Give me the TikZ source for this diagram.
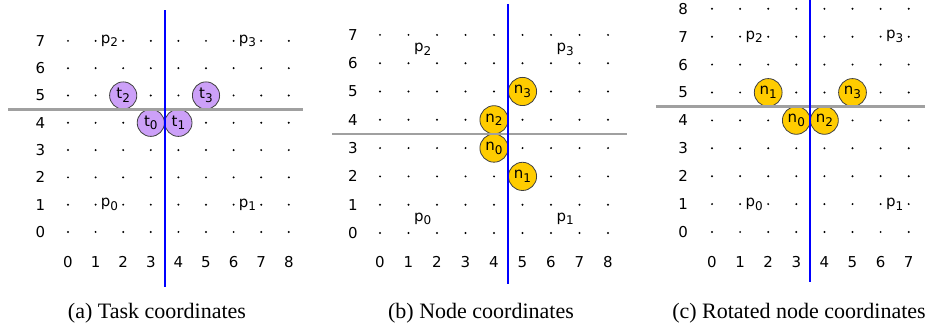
\documentclass[tikz,border=0pt]{standalone}
\usepackage{fontspec}
\setmainfont{Liberation Serif}
\newfontfamily\lblfont{DejaVu Sans}
\newcommand\lowsub[1]{\raisebox{-0.45ex}{\fontsize{6}{6}\selectfont #1}}
\definecolor{taskc}{RGB}{204,160,248}
\definecolor{nodec}{RGB}{255,204,0}
\definecolor{cutgray}{RGB}{160,160,160}
\begin{document}
\begin{tikzpicture}[x=0.5pt,y=-0.5pt,
  gdot/.style={circle,fill=black,inner sep=0pt,minimum size=1.1pt},
  axlbl/.style={font=\lblfont\fontsize{7.5}{8}\selectfont,inner sep=0pt},
  plbl/.style={font=\lblfont\fontsize{7.5}{8}\selectfont,inner sep=0.5pt,fill=white},
  tcirc/.style={circle,draw=black!75,line width=0.4pt,fill=taskc,inner sep=0pt,font=\lblfont\fontsize{7.5}{8}\selectfont},
  ncirc/.style={circle,draw=black!75,line width=0.4pt,fill=nodec,inner sep=0pt,font=\lblfont\fontsize{7.5}{8}\selectfont},
  blueline/.style={draw=blue,line width=1pt},
  grayline/.style={draw=cutgray,line width=1.4pt},
  caption/.style={font=\fontsize{11}{12}\selectfont,inner sep=0pt}
]
\useasboundingbox (0,0) rectangle (925,330);

% ---------- panel (a) ----------
\begin{scope}[shift={(34pt,-116pt)},x=13.8pt,y=13.65pt]
  \foreach \i in {0,...,8} \foreach \j in {0,...,7} \node[gdot] (a-d-\i-\j) at (\i,\j) {};
  \foreach \j in {0,...,7} \node[axlbl] (a-y-\j) at (-1,\j) {\j};
  \foreach \i in {0,...,8} \node[axlbl] (a-x-\i) at (\i,-1.1) {\i};
  \node[plbl] (a-p2) at (1.5,7) {p\lowsub{2}};
  \node[plbl] (a-p3) at (6.5,7) {p\lowsub{3}};
  \node[plbl] (a-p0) at (1.5,1) {p\lowsub{0}};
  \node[plbl] (a-p1) at (6.5,1) {p\lowsub{1}};
  \node[tcirc,minimum size=13.6pt] (a-t2) at (2,5) {t\lowsub{2}};
  \node[tcirc,minimum size=13.6pt] (a-t3) at (5,5) {t\lowsub{3}};
  \node[tcirc,minimum size=13.6pt] (a-t0) at (3,4) {t\lowsub{0}};
  \node[tcirc,minimum size=13.6pt] (a-t1) at (4,4) {t\lowsub{1}};
  \coordinate (a-gl) at (-2.17,4.5);
  \coordinate (a-gr) at (8.5,4.5);
  \coordinate (a-bt) at (3.5,8.13);
  \coordinate (a-bb) at (3.5,-2.0);
  \draw[grayline] (a-gl) -- (a-gr);
  \draw[blueline] (a-bt) -- (a-bb);
\end{scope}

% ---------- panel (b) ----------
\begin{scope}[shift={(190pt,-116.5pt)},x=14.25pt,y=14.15pt]
  \foreach \i in {0,...,8} \foreach \j in {0,...,7} \node[gdot] (b-d-\i-\j) at (\i,\j) {};
  \foreach \j in {0,...,7} \node[axlbl] (b-y-\j) at (-0.95,\j) {\j};
  \foreach \i in {0,...,8} \node[axlbl] (b-x-\i) at (\i,-1.03) {\i};
  \node[plbl] (b-p2) at (1.5,6.5) {p\lowsub{2}};
  \node[plbl] (b-p3) at (6.5,6.5) {p\lowsub{3}};
  \node[plbl] (b-p0) at (1.5,0.5) {p\lowsub{0}};
  \node[plbl] (b-p1) at (6.5,0.5) {p\lowsub{1}};
  \node[ncirc,minimum size=14.1pt] (b-n3) at (5,5) {n\lowsub{3}};
  \node[ncirc,minimum size=14.1pt] (b-n2) at (4,4) {n\lowsub{2}};
  \node[ncirc,minimum size=14.1pt] (b-n0) at (4,3) {n\lowsub{0}};
  \node[ncirc,minimum size=14.1pt] (b-n1) at (5,2) {n\lowsub{1}};
  \coordinate (b-gl) at (-1.68,3.5);
  \coordinate (b-gr) at (8.67,3.5);
  \coordinate (b-bt) at (4.5,8.1);
  \coordinate (b-bb) at (4.5,-1.8);
  \draw[grayline] (b-gl) -- (b-gr);
  \draw[blueline] (b-bt) -- (b-bb);
\end{scope}

% ---------- panel (c) ----------
\begin{scope}[shift={(356pt,-116pt)},x=14.05pt,y=13.95pt]
  \foreach \i in {0,...,7} \foreach \j in {0,...,8} \node[gdot] (c-d-\i-\j) at (\i,\j) {};
  \foreach \j in {0,...,8} \node[axlbl] (c-y-\j) at (-1.03,\j) {\j};
  \foreach \i in {0,...,7} \node[axlbl] (c-x-\i) at (\i,-1.08) {\i};
  \node[plbl] (c-p2) at (1.5,7) {p\lowsub{2}};
  \node[plbl] (c-p3) at (6.5,7) {p\lowsub{3}};
  \node[plbl] (c-p0) at (1.5,1) {p\lowsub{0}};
  \node[plbl] (c-p1) at (6.5,1) {p\lowsub{1}};
  \node[ncirc,minimum size=13.9pt] (c-n1) at (2,5) {n\lowsub{1}};
  \node[ncirc,minimum size=13.9pt] (c-n3) at (5,5) {n\lowsub{3}};
  \node[ncirc,minimum size=13.9pt] (c-n0) at (3,4) {n\lowsub{0}};
  \node[ncirc,minimum size=13.9pt] (c-n2) at (4,4) {n\lowsub{2}};
  \coordinate (c-gl) at (-2.0,4.5);
  \coordinate (c-gr) at (7.6,4.5);
  \coordinate (c-bt) at (3.5,8.35);
  \coordinate (c-bb) at (3.5,-1.8);
  \draw[grayline] (c-gl) -- (c-gr);
  \draw[blueline] (c-bt) -- (c-bb);
\end{scope}

% ---------- captions ----------
\node[caption] (capa) at (157,313) {(a) Task coordinates};
\node[caption] (capb) at (481,313) {(b) Node coordinates};
\node[caption] (capc) at (799,313) {(c) Rotated node coordinates};
\end{tikzpicture}
\end{document}
